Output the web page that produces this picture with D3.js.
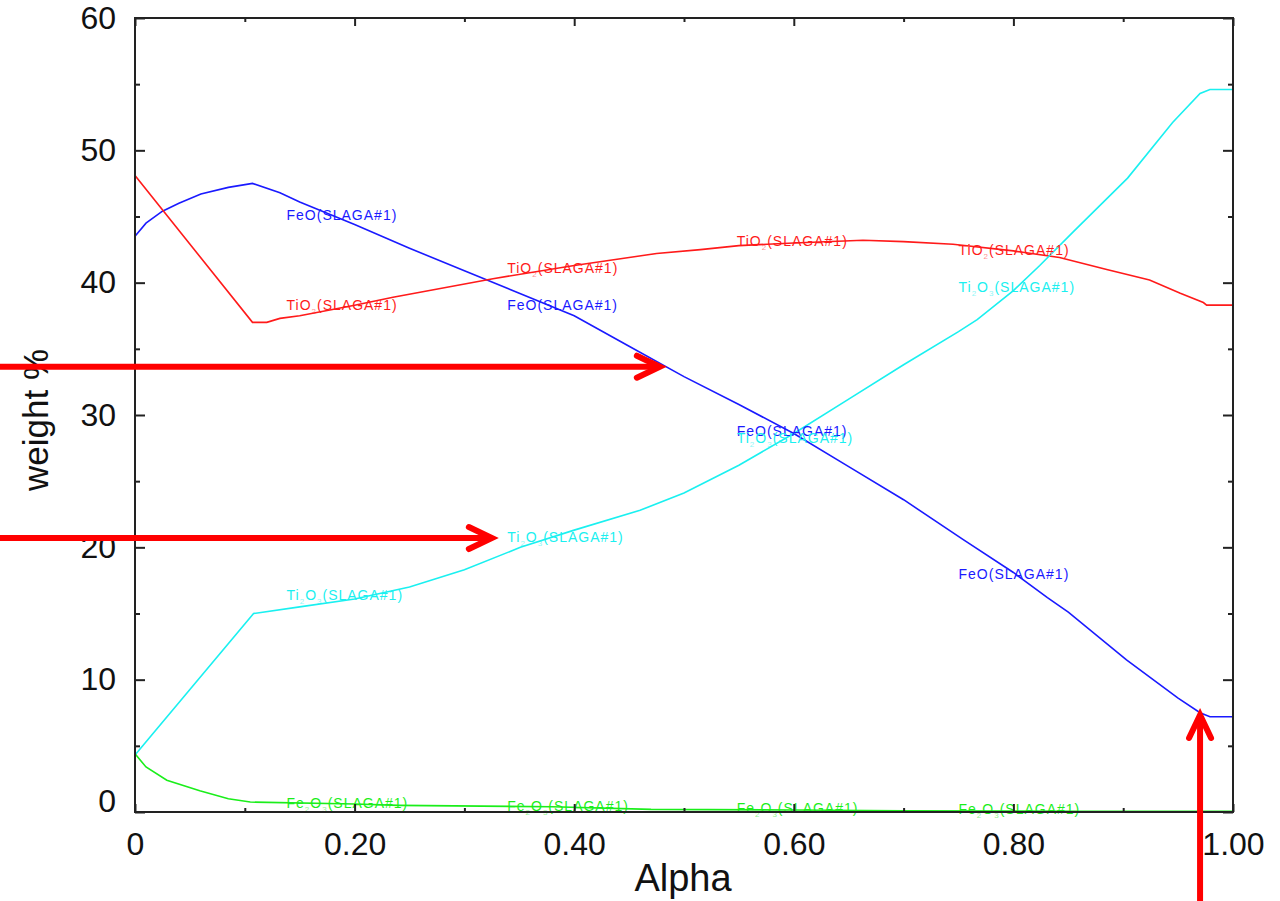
<!DOCTYPE html>
<html lang="en">
<head>
    <meta charset="UTF-8">
    <title>Slag composition vs Alpha</title>
    <script src="https://cdn.jsdelivr.net/npm/d3@7"></script>
</head>
<body>

    <div class="marco"></div>

    <style>
        body, html {margin: 0; padding: 0; background: #fff;}
        .marco {width: 1280px; height: 901px;}
        .tick text {font-family: "Liberation Sans", Arial, sans-serif; font-size: 32px; fill: #111;}
        .tick line {stroke: #222; stroke-width: 2;}
        .serie {fill: none; stroke-width: 1.6;}
        .etiqueta {font-family: "Liberation Sans", Arial, sans-serif; font-size: 14px; letter-spacing: 1px;}
    </style>

    <script>
        // Datos (alpha, % en peso)
        const feoAlpha = [0, 0.01, 0.025, 0.04, 0.06, 0.085, 0.107, 0.132, 0.15, 0.2, 0.25, 0.3, 0.35, 0.4, 0.45, 0.5, 0.55, 0.6, 0.65, 0.7, 0.754, 0.8, 0.831, 0.85, 0.903, 0.95, 0.97, 0.979, 1.0];
        const feoVal   = [43.5, 44.5, 45.4, 46.0, 46.7, 47.2, 47.5, 46.8, 46.1, 44.4, 42.6, 40.9, 39.2, 37.5, 35.2, 32.9, 30.8, 28.6, 26.1, 23.6, 20.6, 18.1, 16.2, 15.1, 11.5, 8.6, 7.5, 7.2, 7.2];

        const tio2Alpha = [0, 0.107, 0.12, 0.132, 0.15, 0.2, 0.235, 0.326, 0.4, 0.475, 0.515, 0.55, 0.6, 0.663, 0.7, 0.745, 0.8, 0.842, 0.885, 0.924, 0.952, 0.973, 0.976, 1.0];
        const tio2Val   = [48.1, 37.0, 37.0, 37.3, 37.5, 38.3, 38.9, 40.3, 41.3, 42.2, 42.5, 42.8, 43.0, 43.2, 43.1, 42.9, 42.4, 41.9, 41.0, 40.2, 39.2, 38.5, 38.3, 38.3];

        const ti2o3Alpha = [0, 0.108, 0.15, 0.2, 0.25, 0.3, 0.351, 0.4, 0.46, 0.5, 0.55, 0.6, 0.65, 0.7, 0.75, 0.767, 0.8, 0.824, 0.854, 0.904, 0.945, 0.97, 0.979, 1.0];
        const ti2o3Val   = [4.3, 15.0, 15.5, 16.1, 17.0, 18.3, 20.0, 21.3, 22.8, 24.1, 26.2, 28.6, 31.2, 33.8, 36.3, 37.2, 39.4, 41.3, 43.8, 47.9, 52.1, 54.3, 54.6, 54.6];

        const fe2o3Alpha = [0, 0.01, 0.029, 0.059, 0.085, 0.105, 0.2, 0.24, 0.38, 0.47, 0.6, 0.7, 0.86, 1.0];
        const fe2o3Val   = [4.4, 3.4, 2.4, 1.6, 1.0, 0.75, 0.6, 0.5, 0.4, 0.2, 0.15, 0.1, 0.05, 0.05];

        // Etiquetas sobre las curvas (inicio del texto en alpha, linea base en %)
        const labelAlpha = [0.138, 0.339, 0.548, 0.75];
        const feoLabelVal   = [44.7, 37.9, 28.4, 17.6];
        const tio2LabelVal  = [37.9, 40.7, 42.8, 42.1];
        const ti2o3LabelVal = [16.0, 20.4, 27.9, 39.3];
        const fe2o3LabelVal = [0.3, 0.08, -0.1, -0.15];

        const xMajor = [0, 0.2, 0.4, 0.6, 0.8, 1.0];
        const xMinor = [0.1, 0.3, 0.5, 0.7, 0.9];
        const yMajor = [0, 10, 20, 30, 40, 50, 60];
        const yMinor = [5, 15, 25, 35, 45, 55];

        // Flechas rojas (punta en coordenadas de datos)
        const flechasH = [[0.478, 33.65], [0.325, 20.7]];
        const flechaV = [0.97, 7.33];

        const series = [
            {alpha: feoAlpha,   val: feoVal,   color: "#1a1aff", nombre: "FeO(SLAGA#1)",     etq: feoLabelVal},
            {alpha: tio2Alpha,  val: tio2Val,  color: "#ff1a1a", nombre: "TiO_2(SLAGA#1)",    etq: tio2LabelVal},
            {alpha: ti2o3Alpha, val: ti2o3Val, color: "#1af0f0", nombre: "Ti_2O_3(SLAGA#1)",  etq: ti2o3LabelVal},
            {alpha: fe2o3Alpha, val: fe2o3Val, color: "#1aee1a", nombre: "Fe_2O_3(SLAGA#1)",  etq: fe2o3LabelVal}
        ];

        var width = 1280, height = 901;
        var x = d3.scaleLinear().domain([0, 1]).range([135, 1233]),
            y = d3.scaleLinear().domain([0, 60]).range([812, 18]);

        var svg = d3.select(".marco").append("svg")
            .attr("width", width)
            .attr("height", height);

        // Curvas
        var linea = d3.line().x(d => x(d[0])).y(d => y(d[1]));
        series.forEach(s => {
            svg.append("path")
                .attr("class", "serie")
                .attr("stroke", s.color)
                .attr("d", linea(d3.zip(s.alpha, s.val)));
        });

        // Etiquetas con subindices
        series.forEach(s => {
            var partes = s.nombre.split(/_(\d)/);
            labelAlpha.forEach((a, i) => {
                var t = svg.append("text")
                    .attr("class", "etiqueta")
                    .attr("x", x(a))
                    .attr("y", y(s.etq[i]))
                    .attr("fill", s.color);
                var bajar = 0;
                partes.forEach((p, j) => {
                    if (j % 2 == 1) {
                        t.append("tspan").attr("dy", 4).attr("font-size", 8).attr("opacity", 0.5).text(p);
                        bajar = 4;
                    } else if (p.length) {
                        t.append("tspan").attr("dy", -bajar).text(p);
                        bajar = 0;
                    }
                });
            });
        });

        // Ejes (ticks hacia dentro)
        var fmt = d => d === 0 ? "0" : d3.format(".2f")(d);
        var ejes = [
            [d3.axisBottom(x).tickValues(xMajor).tickSize(-8).tickPadding(20).tickFormat(fmt), "translate(0,812)"],
            [d3.axisBottom(x).tickValues(xMinor).tickSize(-4).tickFormat(""), "translate(0,812)"],
            [d3.axisTop(x).tickValues(xMajor).tickSize(-8).tickFormat(""), "translate(0,18)"],
            [d3.axisTop(x).tickValues(xMinor).tickSize(-4).tickFormat(""), "translate(0,18)"],
            [d3.axisLeft(y).tickValues(yMajor).tickSize(-10).tickPadding(19), "translate(135,0)"],
            [d3.axisLeft(y).tickValues(yMinor).tickSize(-5).tickFormat(""), "translate(135,0)"],
            [d3.axisRight(y).tickValues(yMajor).tickSize(-10).tickFormat(""), "translate(1233,0)"],
            [d3.axisRight(y).tickValues(yMinor).tickSize(-5).tickFormat(""), "translate(1233,0)"]
        ];
        ejes.forEach(e => {
            var g = svg.append("g").attr("transform", e[1]).call(e[0]);
            g.select(".domain").remove();
        });
        // el "0" del eje vertical esta algo subido
        svg.selectAll(".tick text").filter(function(d) { return d === 0 && this.getAttribute("x") < 0; })
            .attr("y", -11);

        // Marco
        svg.append("rect")
            .attr("x", x(0)).attr("y", y(60))
            .attr("width", x(1) - x(0)).attr("height", y(0) - y(60))
            .attr("fill", "none").attr("stroke", "#222").attr("stroke-width", 2);

        // Titulos de ejes
        svg.append("text")
            .attr("x", 683).attr("y", 891)
            .attr("text-anchor", "middle")
            .style("font-family", "Liberation Sans, Arial, sans-serif")
            .style("font-size", "38px").attr("fill", "#111")
            .text("Alpha");
        svg.append("text")
            .attr("transform", "translate(48,420) rotate(-90)")
            .attr("text-anchor", "middle")
            .style("font-family", "Liberation Sans, Arial, sans-serif")
            .style("font-size", "35px").attr("fill", "#111")
            .text("weight %");

        // Flechas
        var rojo = "#ff0000";
        function flecha(x1, y1, x2, y2, ax) {
            var g = svg.append("g").attr("stroke", rojo).attr("stroke-width", 6)
                .attr("stroke-linecap", "round").attr("fill", "none");
            g.append("line").attr("x1", x1).attr("y1", y1).attr("x2", x2).attr("y2", y2);
            g.append("polyline").attr("points", ax).attr("stroke-linejoin", "miter");
        }
        flechasH.forEach(f => {
            var tx = x(f[0]), ty = y(f[1]);
            flecha(0, ty, tx - 2, ty, `${tx - 23},${ty - 11} ${tx},${ty} ${tx - 23},${ty + 11}`);
        });
        (function() {
            var tx = x(flechaV[0]), ty = y(flechaV[1]);
            flecha(tx, height, tx, ty + 2, `${tx - 11},${ty + 23} ${tx},${ty} ${tx + 11},${ty + 23}`);
        })();
    </script>
</body>
</html>
